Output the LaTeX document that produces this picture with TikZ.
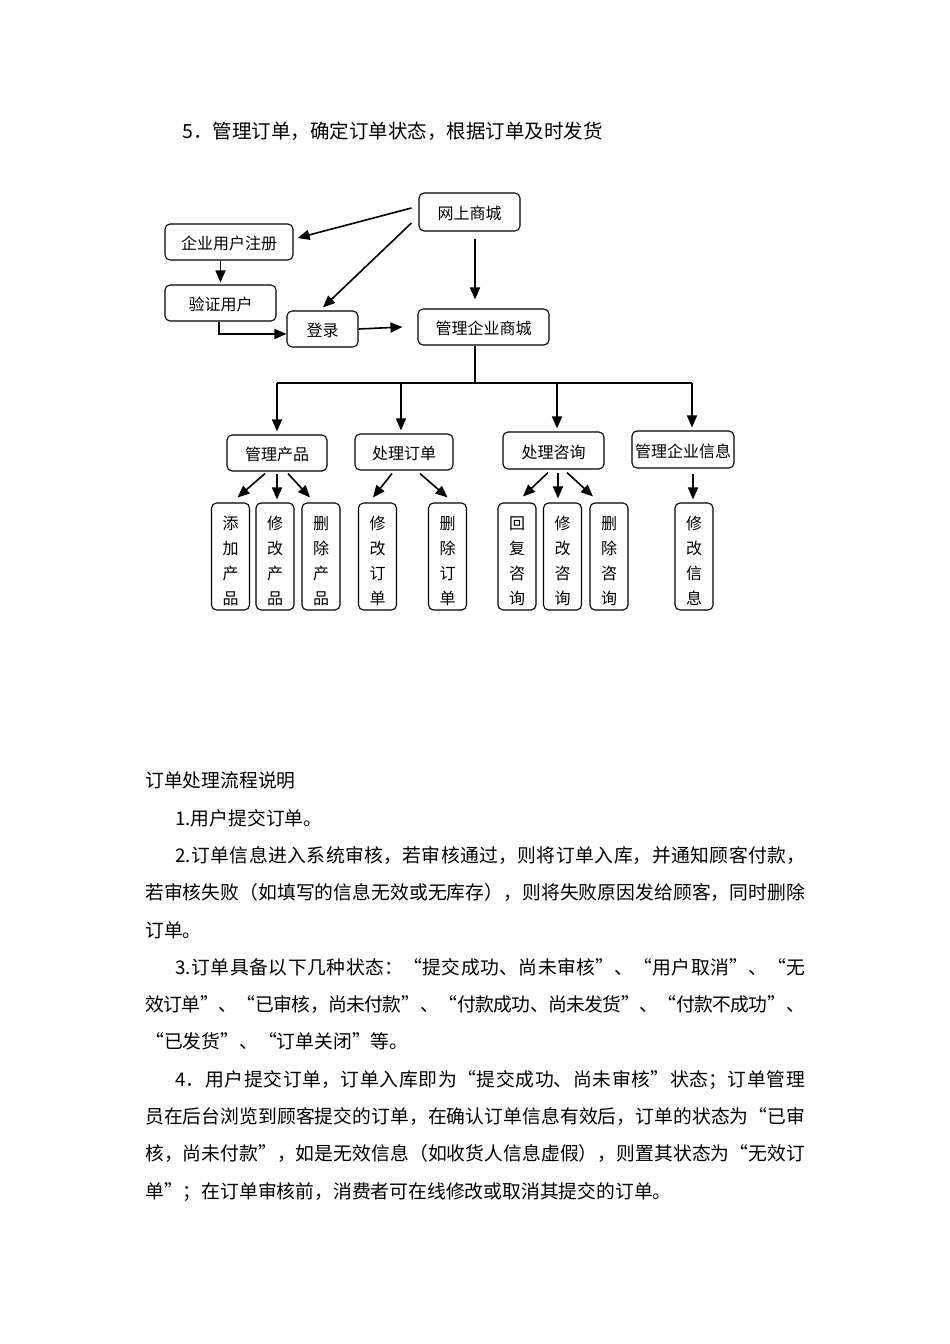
\documentclass[tikz,border=0pt]{standalone}
\usepackage{fontspec}
\setmainfont{Noto Sans CJK SC}
\usetikzlibrary{arrows.meta,calc}
\XeTeXlinebreaklocale "zh"
\XeTeXlinebreakskip=0pt plus 3pt minus 2.5pt
\newcommand{\tallstack}[1]{\raisebox{-5pt}[\height][\depth]{\begin{tabular}{@{}c@{}}#1\end{tabular}}}
\tikzset{
 box/.style={draw, rounded corners=5pt, line width=1.1pt, inner sep=0pt, minimum height=36pt,
   font=\fontsize{16}{16}\selectfont, text height=1.6em, text depth=0.06em},
 tallbox/.style={draw, rounded corners=5pt, line width=1.1pt, inner sep=0pt, minimum width=38pt,
   minimum height=107pt, font=\fontsize{16}{25}\selectfont},
 arr/.style={-{Triangle[length=12pt,width=10pt]}, line width=1.6pt},
 ln/.style={line width=1.6pt},
 txt/.style={anchor=west, inner sep=0pt, font=\fontsize{18.8}{20}\selectfont, text height=1.2em, text depth=0.04em},
 jtxt/.style={txt, text width=#1, align=justify},
}
\begin{document}
\begin{tikzpicture}[x=1pt,y=-1pt]
\fill[white] (0,0) rectangle (950,1344);
\useasboundingbox (0,0) rectangle (950,1344);

% heading
\node[txt, font=\fontsize{19.5}{20}\selectfont] (title) at (182,133) {5．管理订单，确定订单状态，根据订单及时发货};

% top part
\node[box, minimum width=101pt, minimum height=38pt] (wssc) at (469.5,212) {网上商城};
\node[box, minimum width=128pt] (qyzc) at (229,242) {企业用户注册};
\node[box, minimum width=111pt] (yzyh) at (220.5,303) {验证用户};
\node[box, minimum width=71pt] (dl) at (322.5,329) {登录};
\node[box, minimum width=131pt] (glsc) at (483.5,327) {管理企业商城};

% second level
\node[box, minimum width=100pt] (glcp) at (277,453) {管理产品};
\node[box, minimum width=98pt] (clcd) at (404,452) {处理订单};
\node[box, minimum width=101pt, minimum height=37pt] (clzx) at (553.5,450.5) {处理咨询};
\node[box, minimum width=102pt, minimum height=37pt] (glxx) at (683,449.5) {管理企业信息};

% leaves
\node[tallbox] (tjcp) at (230.5,556.5) {\tallstack{添\\加\\产\\品}};
\node[tallbox] (xgcp) at (275,556.5) {\tallstack{修\\改\\产\\品}};
\node[tallbox] (sccp) at (321,556.5) {\tallstack{删\\除\\产\\品}};
\node[tallbox] (xgdd) at (377.5,556.5) {\tallstack{修\\改\\订\\单}};
\node[tallbox] (scdd) at (447.5,556.5) {\tallstack{删\\除\\订\\单}};
\node[tallbox] (hfzx) at (517,556.5) {\tallstack{回\\复\\咨\\询}};
\node[tallbox] (xgzx) at (562.5,556.5) {\tallstack{修\\改\\咨\\询}};
\node[tallbox] (sczx) at (609,556.5) {\tallstack{删\\除\\咨\\询}};
\node[tallbox] (xgxx) at (694,556.5) {\tallstack{修\\改\\信\\息}};

\coordinate (tx) at (475,0);
\coordinate (bus) at (475,383);

% top connectors
\draw[arr] ($(wssc.west)+(-7,-4)$) -- ($(qyzc.east)+(4,-4)$);
\draw[arr] ($(wssc.west)+(-7,11)$) -- ($(dl.north)+(0.5,-3)$);
\draw[arr] ([yshift=-7pt]wssc.south -| tx) -- ([yshift=9pt]glsc.north -| tx);
\draw[arr] (qyzc.south -| yzyh.north) -- ([yshift=2pt]yzyh.north);
\draw[arr] ([xshift=-1.5pt]yzyh.south) |- ([yshift=-5pt]dl.west);
\draw[arr] (dl.east) -- ([xshift=-15pt]glsc.west);

% bus
\draw[ln] (glsc.south -| tx) -- (bus);
\draw[ln] (glcp.north |- bus) -- ([xshift=9pt]glxx.north |- bus);
\draw[arr] (glcp.north |- bus) -- ([yshift=3pt]glcp.north);
\draw[arr] ([xshift=-3pt]clcd.north |- bus) -- ([xshift=-3pt,yshift=3pt]clcd.north);
\draw[arr] ([xshift=3.5pt]clzx.north |- bus) -- ([xshift=3.5pt,yshift=3pt]clzx.north);
\draw[arr] ([xshift=9pt]glxx.north |- bus) -- ([xshift=9pt,yshift=3pt]glxx.north);

% children of 管理产品
\draw[arr] ([xshift=-12pt,yshift=-2pt]glcp.south) -- ([xshift=7pt,yshift=5pt]tjcp.north);
\draw[arr] ([yshift=-2pt]glcp.south) -- ([yshift=3pt]xgcp.north -| glcp.south);
\draw[arr] ([xshift=11pt,yshift=-2pt]glcp.south) -- ([xshift=-11pt,yshift=5pt]sccp.north);
% children of 处理订单
\draw[arr] ([xshift=-12pt,yshift=-3pt]clcd.south) -- ([xshift=-4.5pt,yshift=5pt]xgdd.north);
\draw[arr] ([xshift=16pt,yshift=-3pt]clcd.south) -- ([yshift=5pt]scdd.north);
% children of 处理咨询
\draw[arr] ([xshift=-5.5pt,yshift=-3pt]clzx.south) -- ([xshift=6pt,yshift=6pt]hfzx.north);
\draw[arr] ([xshift=4.5pt,yshift=-3pt]clzx.south) -- ([xshift=4.5pt,yshift=4pt]xgzx.north -| clzx.south);
\draw[arr] ([xshift=13.5pt,yshift=-3pt]clzx.south) -- ([xshift=-16pt,yshift=6pt]sczx.north);
% child of 管理企业信息
\draw[arr] ([xshift=10pt,yshift=-5pt]glxx.south) -- ([xshift=-1pt,yshift=3pt]xgxx.north);

% body text
\node[txt] (t0) at (145,782) {订单处理流程说明};
\node[txt] (t1) at (175,819.3) {1.用户提交订单。};
\node[jtxt=630pt] (t2) at (175,856.6) {\noindent\parfillskip=0pt\relax 2.订单信息进入系统审核，若审核通过，则将订单入库，并通知顾客付款，\par};
\node[jtxt=660pt] (t3) at (145,893.9) {\noindent\parfillskip=0pt\relax 若审核失败（如填写的信息无效或无库存），则将失败原因发给顾客，同时删除\par};
\node[txt] (t4) at (145,931.2) {订单。};
\node[jtxt=630pt] (t5) at (175,968.5) {\noindent\parfillskip=0pt\relax 3.订单具备以下几种状态：“提交成功、尚未审核”、“用户取消”、“无\par};
\node[jtxt=660pt] (t6) at (145,1005.8) {\noindent\parfillskip=0pt\relax 效订单”、“已审核，尚未付款”、“付款成功、尚未发货”、“付款不成功”、\par};
\node[txt] (t7) at (145,1043.1) {“已发货”、“订单关闭”等。};
\node[jtxt=630pt] (t8) at (175,1080.4) {\noindent\parfillskip=0pt\relax 4．用户提交订单，订单入库即为“提交成功、尚未审核”状态；订单管理\par};
\node[jtxt=660pt] (t9) at (145,1117.7) {\noindent\parfillskip=0pt\relax 员在后台浏览到顾客提交的订单，在确认订单信息有效后，订单的状态为“已审\par};
\node[jtxt=660pt] (t10) at (145,1155) {\noindent\parfillskip=0pt\relax 核，尚未付款”，如是无效信息（如收货人信息虚假），则置其状态为“无效订\par};
\node[txt] (t11) at (145,1192.3) {单”；在订单审核前，消费者可在线修改或取消其提交的订单。};
\end{tikzpicture}
\end{document}
